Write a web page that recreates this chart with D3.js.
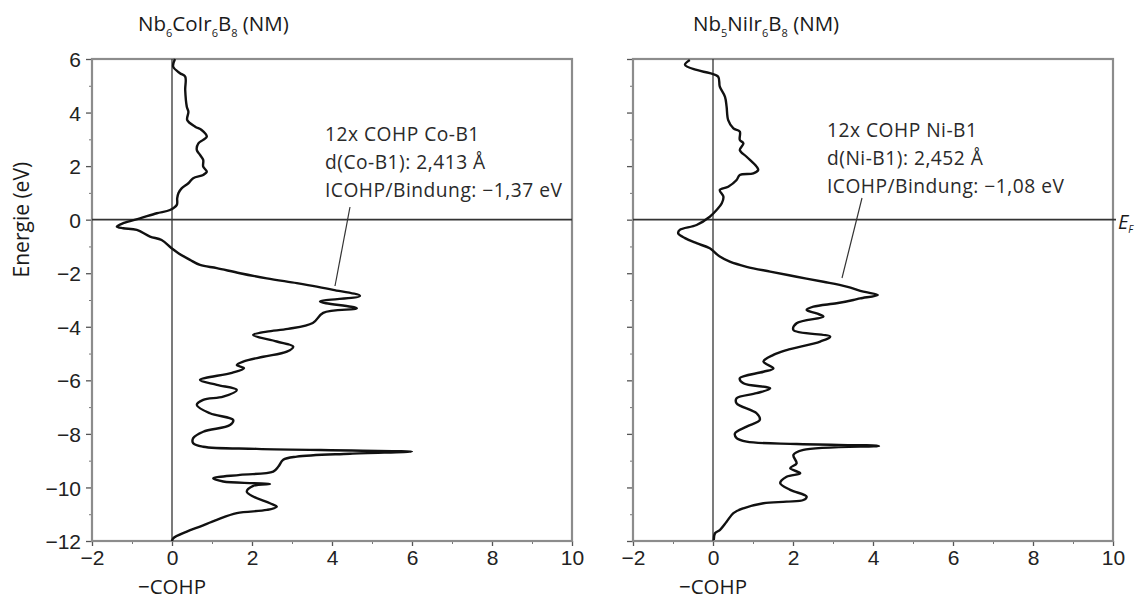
<!DOCTYPE html>
<html>
<head>
<meta charset="utf-8">
<script src="https://cdn.jsdelivr.net/npm/d3@7"></script>
<style>
  html, body { margin: 0; padding: 0; background: #fff; }
  svg { display: block; font-family: "Open Sans", "Noto Sans", sans-serif; }
</style>
</head>
<body>
<svg id="chart" width="1136" height="599"></svg>
<script>
// Axis tick values and labels
const yTicks = [6, 4, 2, 0, -2, -4, -6, -8, -10, -12];
const yMinor = [5, 3, 1, -1, -3, -5, -7, -9, -11];
const xTicks = [-2, 0, 2, 4, 6, 8, 10];
const xMinor = [-1, 1, 3, 5, 7, 9];

// Nb6CoIr6B8: energy (eV) and -COHP for the Co-B1 contacts
const energyCo = [6.0, 5.71, 5.47, 5.34, 4.84, 4.22, 4.03, 3.72, 3.47, 3.35, 3.10, 2.98, 2.85, 2.60, 2.42, 2.23, 1.98, 1.79, 1.67, 1.55, 1.36, 1.17, 0.99, 0.80, 0.55, 0.36, 0.24, 0.05, -0.13, -0.26, -0.32, -0.38, -0.63, -0.76, -1.07, -1.25, -1.5, -1.69, -1.81, -2.0, -2.19, -2.37, -2.5, -2.62, -2.85, -3.06, -3.31, -3.48, -3.86, -4.08, -4.18, -4.31, -4.55, -4.74, -4.93, -5.12, -5.30, -5.43, -5.55, -5.72, -5.99, -6.17, -6.36, -6.61, -6.73, -6.92, -7.23, -7.48, -7.67, -7.92, -8.16, -8.35, -8.48, -8.56, -8.62, -8.66, -8.74, -8.85, -8.97, -9.22, -9.41, -9.53, -9.66, -9.78, -9.84, -9.87, -9.94, -10.16, -10.34, -10.59, -10.72, -10.84, -10.96, -11.21, -11.46, -11.65, -11.9, -12.0];
const cohpCo = [0.075, 0.03, 0.2, 0.33, 0.33, 0.37, 0.41, 0.38, 0.58, 0.74, 0.87, 0.78, 0.66, 0.62, 0.7, 0.78, 0.78, 0.87, 0.78, 0.53, 0.41, 0.24, 0.16, 0.13, 0.12, -0.05, -0.38, -0.8, -1.22, -1.38, -1.22, -0.88, -0.55, -0.26, -0.01, 0.16, 0.45, 0.7, 1.12, 1.7, 2.37, 3.12, 3.62, 4.03, 4.7, 3.7, 4.62, 3.78, 3.52, 2.9, 2.37, 2.03, 2.62, 3.03, 2.87, 2.28, 1.78, 1.62, 1.8, 1.5, 0.70, 1.12, 1.62, 1.28, 0.78, 0.62, 0.95, 1.53, 1.45, 0.78, 0.53, 0.53, 0.78, 2.12, 4.5, 6.0, 4.45, 3.12, 2.78, 2.66, 2.53, 1.7, 1.03, 1.28, 2.03, 2.45, 2.03, 1.87, 2.03, 2.45, 2.62, 2.37, 1.62, 1.12, 0.7, 0.37, 0.03, 0.0];

// Nb5NiIr6B8: energy (eV) and -COHP for the Ni-B1 contacts
const energyNi = [5.96, 5.78, 5.59, 5.47, 5.34, 4.97, 4.59, 4.22, 3.72, 3.41, 3.29, 2.98, 2.85, 2.60, 2.35, 1.98, 1.86, 1.73, 1.67, 1.48, 1.23, 1.11, 0.86, 0.61, 0.36, 0.11, -0.20, -0.38, -0.51, -0.69, -0.88, -1.07, -1.38, -1.57, -1.76, -1.94, -2.13, -2.32, -2.50, -2.69, -2.81, -2.94, -3.0, -3.12, -3.25, -3.37, -3.50, -3.62, -3.87, -4.12, -4.37, -4.55, -4.87, -5.05, -5.30, -5.55, -5.68, -5.92, -6.11, -6.30, -6.48, -6.67, -6.86, -7.23, -7.48, -7.73, -7.98, -8.16, -8.29, -8.38, -8.45, -8.60, -8.79, -9.10, -9.28, -9.47, -9.60, -9.84, -10.09, -10.34, -10.47, -10.53, -10.59, -10.78, -10.96, -11.28, -11.59, -11.71, -11.96];
const cohpNi = [-0.58, -0.70, -0.41, -0.08, 0.13, 0.17, 0.3, 0.34, 0.38, 0.51, 0.67, 0.67, 0.76, 0.67, 0.84, 1.09, 1.13, 1.01, 0.67, 0.59, 0.38, 0.17, 0.26, 0.22, 0.09, -0.08, -0.41, -0.83, -0.87, -0.70, -0.41, -0.08, 0.17, 0.42, 0.84, 1.43, 2.09, 2.76, 3.34, 3.76, 4.12, 3.68, 3.51, 3.09, 2.51, 2.34, 2.59, 2.76, 2.09, 2.01, 2.93, 2.68, 1.84, 1.51, 1.26, 1.51, 1.26, 0.67, 0.76, 1.43, 1.09, 0.59, 0.59, 1.09, 1.17, 0.84, 0.55, 0.59, 0.84, 2.09, 4.15, 2.26, 2.01, 2.09, 1.93, 2.18, 1.84, 1.68, 1.93, 2.34, 2.26, 1.84, 1.26, 0.76, 0.51, 0.34, 0.17, 0.05, 0.02];

// Panel descriptions
const panels = [
  {
    left: 92, right: 572,
    title: [["Nb", null], ["6", "sub"], ["CoIr", null], ["6", "sub"], ["B", null], ["8", "sub"], [" (NM)", null]],
    titleX: 138,
    energy: energyCo, cohp: cohpCo,
    note: ["12x COHP Co-B1", "d(Co-B1): 2,413 Å", "ICOHP/Bindung: \u22121,37 eV"],
    noteX: 325, noteY: [141, 169, 197],
    leader: [[350, 207], [335, 286]],
    yLabels: true, fermiLabel: false
  },
  {
    left: 633, right: 1113,
    title: [["Nb", null], ["5", "sub"], ["NiIr", null], ["6", "sub"], ["B", null], ["8", "sub"], [" (NM)", null]],
    titleX: 693,
    energy: energyNi, cohp: cohpNi,
    note: ["12x COHP Ni-B1", "d(Ni-B1): 2,452 Å", "ICOHP/Bindung: \u22121,08 eV"],
    noteX: 827, noteY: [137, 165, 193],
    leader: [[862, 198], [842, 278]],
    yLabels: false, fermiLabel: true
  }
];

const svg = d3.select("#chart");
const plotTop = 59, plotBottom = 541;
const y = d3.scaleLinear().domain([6, -12]).range([plotTop, plotBottom]);
const fmt = v => (v < 0 ? "\u2212" + Math.abs(v) : String(v));

panels.forEach(p => {
  const x = d3.scaleLinear().domain([-2, 10]).range([p.left, p.right]);
  const g = svg.append("g");

  // left axis ticks
  const yAxis = d3.axisLeft(y).tickValues(yTicks).tickSize(6).tickFormat(p.yLabels ? fmt : "");
  const ga = g.append("g").attr("transform", `translate(${p.left},0)`).call(yAxis);
  ga.select(".domain").remove();
  ga.selectAll("line").attr("stroke", "#555").attr("stroke-width", 1.3);
  ga.selectAll("text").attr("font-size", 21).attr("fill", "#222").attr("x", -11).attr("dy", "0.36em");
  const gam = g.append("g").attr("transform", `translate(${p.left},0)`)
    .call(d3.axisLeft(y).tickValues(yMinor).tickSize(3).tickFormat(""));
  gam.select(".domain").remove();
  gam.selectAll("line").attr("stroke", "#777").attr("stroke-width", 1);

  // bottom axis ticks
  const gb = g.append("g").attr("transform", `translate(0,${plotBottom})`)
    .call(d3.axisBottom(x).tickValues(xTicks).tickSize(5).tickFormat(fmt));
  gb.select(".domain").remove();
  gb.selectAll("line").attr("stroke", "#555").attr("stroke-width", 1.3);
  gb.selectAll("text").attr("font-size", 21).attr("fill", "#222").attr("y", 9);
  const gbm = g.append("g").attr("transform", `translate(0,${plotBottom})`)
    .call(d3.axisBottom(x).tickValues(xMinor).tickSize(3).tickFormat(""));
  gbm.select(".domain").remove();
  gbm.selectAll("line").attr("stroke", "#777").attr("stroke-width", 1);

  // frame
  g.append("rect")
    .attr("x", p.left).attr("y", plotTop)
    .attr("width", p.right - p.left).attr("height", plotBottom - plotTop)
    .attr("fill", "none").attr("stroke", "#8c8c8c").attr("stroke-width", 2.2);

  // zero lines
  g.append("line").attr("x1", p.left).attr("x2", p.fermiLabel ? p.right + 3 : p.right)
    .attr("y1", y(0)).attr("y2", y(0)).attr("stroke", "#333").attr("stroke-width", 1.7);
  g.append("line").attr("x1", x(0)).attr("x2", x(0))
    .attr("y1", plotTop).attr("y2", plotBottom).attr("stroke", "#333").attr("stroke-width", 1.3);

  // COHP curve
  const pts = p.energy.map((e, i) => [p.cohp[i], e]);
  const line = d3.line().x(d => x(d[0])).y(d => y(d[1])).curve(d3.curveCatmullRom.alpha(0.5));
  g.append("path").datum(pts).attr("d", line)
    .attr("fill", "none").attr("stroke", "#111").attr("stroke-width", 2.4)
    .attr("stroke-linejoin", "round");

  // title with subscripts
  const t = g.append("text").attr("x", p.titleX).attr("y", 37)
    .attr("font-size", 20.5).attr("fill", "#1a1a1a");
  p.title.forEach(([s, kind]) => {
    if (kind === "sub") {
      t.append("tspan").text(s).attr("font-size", 11).attr("dy", 6);
    } else {
      t.append("tspan").text(s).attr("dy", t.selectAll("tspan").size() ? -6 : 0);
    }
  });

  // x-axis title
  g.append("text").attr("x", x(0)).attr("y", 594).attr("text-anchor", "middle")
    .attr("font-size", 20.5).attr("fill", "#1a1a1a").text("\u2212COHP");

  // annotation and leader line
  p.note.forEach((s, i) => {
    g.append("text").attr("x", p.noteX).attr("y", p.noteY[i])
      .attr("font-size", 19.2).attr("letter-spacing", 0.5)
      .attr("fill", "#2a2a2a").text(s);
  });
  g.append("line")
    .attr("x1", p.leader[0][0]).attr("y1", p.leader[0][1])
    .attr("x2", p.leader[1][0]).attr("y2", p.leader[1][1])
    .attr("stroke", "#333").attr("stroke-width", 1.2);

  if (p.fermiLabel) {
    const ef = g.append("text").attr("x", p.right + 5).attr("y", y(0) + 9)
      .attr("font-size", 20).attr("font-style", "italic").attr("fill", "#1a1a1a");
    ef.append("tspan").text("E");
    ef.append("tspan").text("F").attr("font-size", 10).attr("dy", 4);
  }
});

// shared y-axis title
svg.append("text")
  .attr("transform", `translate(29,${y(0)}) rotate(-90)`)
  .attr("text-anchor", "middle").attr("font-size", 21).attr("fill", "#1a1a1a")
  .text("Energie (eV)");
</script>
</body>
</html>
